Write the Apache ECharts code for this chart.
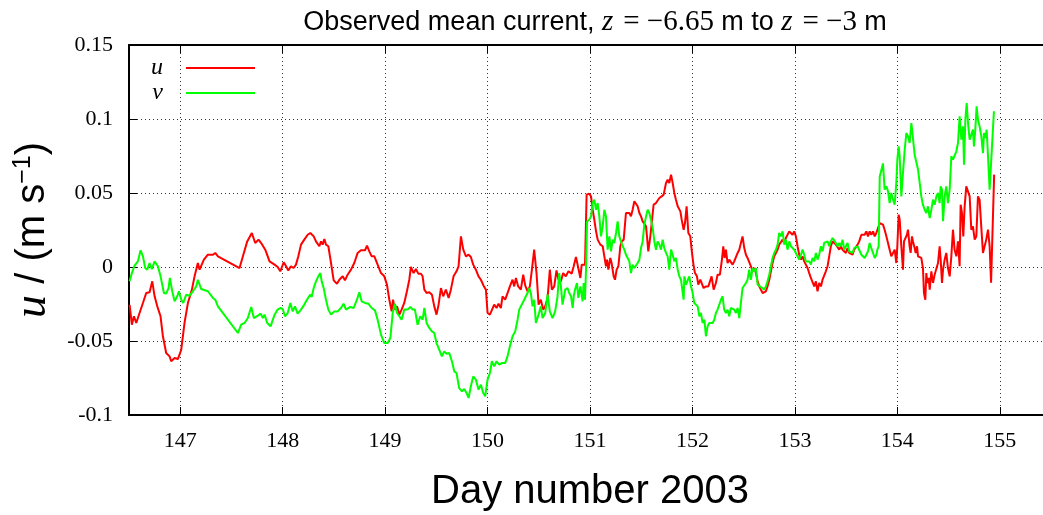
<!DOCTYPE html>
<html><head><meta charset="utf-8">
<script src="https://cdn.jsdelivr.net/npm/echarts@6/dist/echarts.min.js"></script>
<style>html,body{margin:0;padding:0;background:#fff}#c{width:1043px;height:515px}</style>
</head><body><div id="c"></div>
<script>
const uDays = [146.506,146.528,146.548,146.571,146.603,146.636,146.668,146.701,146.727,146.750,146.776,146.808,146.831,146.863,146.896,146.912,146.945,146.977,147.010,147.042,147.075,147.114,147.140,147.172,147.189,147.231,147.270,147.319,147.342,147.368,147.579,147.612,147.654,147.699,147.732,147.764,147.790,147.830,147.872,147.921,
147.951,147.977,148.010,148.033,148.055,148.081,148.107,148.130,148.153,148.179,148.211,148.244,148.270,148.303,148.325,148.342,148.358,148.374,148.390,148.407,148.423,148.446,148.472,148.498,148.530,148.553,148.586,148.608,148.634,148.667,148.699,148.732,148.764,148.804,148.823,148.846,148.869,148.895,148.927,148.960,148.992,149.018,149.041,149.064,149.077,149.096,149.116,149.139,149.161,149.187,149.213,149.236,149.252,149.278,149.301,149.324,149.350,149.366,149.383,
149.405,149.431,149.457,149.480,149.502,149.522,149.545,149.567,149.593,149.620,149.642,149.668,149.697,149.717,149.740,149.763,149.789,149.815,149.837,149.860,149.886,149.912,149.935,149.961,149.984,150.000,150.023,150.042,150.065,150.088,150.107,150.130,150.146,150.172,150.195,150.218,150.244,150.260,150.277,150.299,150.325,150.348,150.368,150.390,150.413,150.433,150.455,150.478,150.498,150.520,150.543,150.563,150.586,150.608,150.628,150.651,150.673,150.693,150.716,150.738,150.764,150.790,
150.821,150.841,150.863,150.880,150.896,150.906,150.919,150.938,150.951,150.967,150.993,151.010,151.026,151.042,151.059,151.075,151.101,151.124,151.140,151.156,151.166,151.179,151.198,151.211,151.231,151.244,151.260,151.277,151.296,151.309,151.329,151.351,151.368,151.384,151.400,151.416,151.433,151.449,151.465,151.482,151.498,151.514,151.530,151.547,151.556,151.569,151.589,151.602,151.621,151.644,151.660,151.677,151.699,151.719,151.742,151.758,151.774,151.791,151.807,151.823,151.839,151.856,151.882,151.895,151.914,151.927,151.943,151.960,151.979,151.992,152.012,152.025,152.044,152.057,152.077,152.090,152.109,152.132,152.155,152.174,152.187,152.207,
152.229,152.245,152.268,152.288,152.301,152.314,152.327,152.343,152.359,152.375,152.392,152.408,152.424,152.441,152.457,152.473,152.489,152.506,152.522,152.538,152.554,152.571,152.587,152.603,152.620,152.636,152.652,152.668,152.685,152.701,152.717,152.733,152.750,152.766,152.782,152.798,152.815,152.831,152.847,152.863,152.880,152.896,152.912,152.928,152.945,152.961,152.977,152.993,153.010,153.026,153.042,153.059,153.075,153.091,153.107,153.124,153.140,153.156,153.172,153.189,153.205,153.221,153.237,153.254,153.270,153.286,153.302,153.319,153.335,153.351,153.368,153.384,153.400,153.416,153.433,153.449,153.465,153.482,153.498,153.514,153.530,153.547,153.563,153.579,153.595,153.612,153.628,
153.649,153.665,153.681,153.697,153.714,153.730,153.746,153.763,153.779,153.795,153.811,153.828,153.844,153.860,153.876,153.893,153.909,153.925,153.941,153.958,153.974,153.990,154.000,154.013,154.023,154.039,154.055,154.065,154.078,154.094,154.104,154.120,154.130,154.143,154.153,154.169,154.179,154.192,154.202,154.218,154.234,154.250,154.260,154.273,154.283,154.293,154.306,154.316,154.332,154.348,154.364,154.381,154.397,154.413,154.423,154.436,154.446,154.462,154.478,154.494,154.511,154.527,154.543,154.559,154.576,154.592,154.608,154.618,154.631,154.644,154.657,154.673,154.690,154.706,154.722,154.738,154.755,154.771,154.787,154.803,154.820,154.836,154.852,154.868,154.885,154.901,154.915,154.945];
const uValues = [-0.0255,-0.0390,-0.0333,-0.0378,-0.0311,-0.0243,-0.0176,-0.0171,-0.0097,-0.0198,-0.0266,-0.0333,-0.0468,-0.0581,-0.0604,-0.0637,-0.0615,-0.0622,-0.0559,-0.0378,-0.0243,-0.0153,-0.0063,0.0027,-0.0018,0.0050,0.0083,0.0083,0.0095,0.0072,-0.0007,0.0072,0.0173,0.0230,0.0162,0.0185,0.0162,0.0117,0.0038,0.0016,
0.0000,-0.0029,0.0032,0.0005,-0.0023,0.0005,-0.0007,0.0016,0.0072,0.0151,0.0185,0.0218,0.0230,0.0207,0.0173,0.0185,0.0140,0.0173,0.0151,0.0189,0.0151,0.0140,0.0027,-0.0090,-0.0113,-0.0086,-0.0063,-0.0090,-0.0052,-0.0018,0.0027,0.0095,0.0113,0.0113,0.0144,0.0106,0.0072,0.0072,0.0016,-0.0041,-0.0063,-0.0119,-0.0221,-0.0300,-0.0221,-0.0288,-0.0266,-0.0322,-0.0288,-0.0243,-0.0164,-0.0086,0.0000,-0.0041,-0.0014,-0.0045,-0.0045,-0.0063,-0.0153,
-0.0176,-0.0171,-0.0187,-0.0266,-0.0322,-0.0254,-0.0142,-0.0198,-0.0153,-0.0209,-0.0153,-0.0063,-0.0029,0.0005,0.0207,0.0117,0.0072,0.0083,0.0068,0.0016,-0.0018,-0.0063,-0.0086,-0.0126,-0.0153,-0.0311,-0.0322,-0.0311,-0.0254,-0.0277,-0.0248,-0.0277,-0.0198,-0.0221,-0.0176,-0.0131,-0.0086,-0.0131,-0.0074,-0.0131,-0.0153,-0.0052,-0.0126,-0.0164,-0.0131,-0.0018,0.0117,-0.0041,-0.0254,-0.0221,-0.0288,-0.0266,-0.0209,-0.0018,-0.0153,-0.0131,-0.0023,-0.0086,-0.0097,-0.0041,-0.0063,-0.0029,
-0.0045,0.0005,0.0068,0.0061,-0.0041,-0.0074,0.0016,0.0005,0.0016,0.0489,0.0495,0.0477,0.0387,0.0320,0.0241,0.0185,0.0151,0.0140,0.0072,0.0005,0.0050,-0.0018,0.0061,0.0027,-0.0063,-0.0086,-0.0018,0.0005,0.0140,0.0173,0.0185,0.0365,0.0376,0.0365,0.0342,0.0387,0.0444,0.0455,0.0410,0.0365,0.0342,0.0308,0.0320,0.0275,0.0207,0.0106,0.0207,0.0297,0.0421,0.0432,0.0432,0.0466,0.0477,0.0489,0.0568,0.0590,0.0568,0.0624,0.0568,0.0500,0.0455,0.0410,0.0376,0.0320,0.0252,0.0297,0.0410,0.0230,0.0207,0.0117,0.0005,-0.0041,-0.0063,-0.0119,-0.0086,-0.0074,-0.0142,-0.0131,-0.0131,-0.0142,-0.0063,-0.0153,
-0.0108,-0.0052,-0.0052,0.0050,0.0140,0.0061,0.0117,0.0027,0.0050,0.0061,0.0016,0.0038,0.0027,0.0095,0.0117,0.0162,0.0207,0.0128,0.0083,0.0061,0.0050,0.0005,-0.0029,-0.0007,-0.0041,-0.0097,-0.0131,-0.0153,-0.0176,-0.0187,-0.0164,-0.0131,-0.0086,-0.0029,0.0027,0.0072,0.0095,0.0117,0.0151,0.0140,0.0185,0.0162,0.0196,0.0207,0.0241,0.0230,0.0218,0.0241,0.0207,0.0140,0.0083,0.0050,0.0072,0.0038,0.0027,-0.0007,-0.0041,-0.0074,-0.0086,-0.0131,-0.0097,-0.0164,-0.0108,-0.0131,-0.0086,-0.0074,-0.0029,0.0005,0.0072,0.0140,0.0173,0.0185,0.0151,0.0162,0.0117,0.0140,0.0117,0.0128,0.0095,0.0128,0.0095,0.0095,0.0083,0.0117,0.0106,0.0151,0.0173,
0.0218,0.0207,0.0218,0.0241,0.0207,0.0241,0.0218,0.0241,0.0207,0.0230,0.0230,0.0297,0.0302,0.0286,0.0252,0.0207,0.0162,0.0117,0.0072,0.0061,0.0117,0.0027,0.0140,0.0354,0.0320,0.0140,-0.0018,0.0173,0.0173,0.0218,0.0252,0.0140,0.0095,0.0207,0.0173,0.0128,0.0095,0.0140,0.0072,0.0083,0.0061,-0.0007,-0.0176,-0.0221,-0.0041,-0.0108,-0.0074,-0.0153,-0.0029,-0.0108,-0.0052,-0.0063,0.0027,0.0140,0.0050,-0.0108,-0.0018,0.0050,0.0095,-0.0007,-0.0063,0.0072,0.0252,0.0117,0.0072,0.0173,0.0005,0.0421,0.0365,0.0207,0.0410,0.0545,0.0545,0.0477,0.0252,0.0275,0.0185,0.0207,0.0477,0.0455,0.0264,0.0095,0.0095,0.0185,0.0252,0.0140,-0.0106,0.0624];

const vDays = [146.506,146.528,146.554,146.587,146.613,146.636,146.658,146.678,146.701,146.723,146.750,146.782,146.808,146.841,146.863,146.886,146.899,146.922,146.945,146.971,146.987,147.010,147.029,147.059,147.091,147.124,147.156,147.172,147.205,147.270,147.319,147.342,147.368,147.563,147.595,147.628,147.660,147.693,147.719,147.758,147.784,147.807,147.823,147.849,147.882,147.921,
147.951,147.977,148.000,148.023,148.049,148.075,148.098,148.120,148.146,148.179,148.211,148.237,148.270,148.283,148.303,148.325,148.348,148.368,148.381,148.400,148.423,148.446,148.472,148.504,148.537,148.569,148.595,148.618,148.634,148.660,148.693,148.725,148.748,148.771,148.804,148.836,148.869,148.901,148.927,148.960,148.992,149.025,149.051,149.074,149.096,149.116,149.139,149.161,149.187,149.220,149.246,149.269,149.291,149.317,149.343,149.366,149.383,
149.405,149.431,149.457,149.480,149.502,149.528,149.554,149.577,149.600,149.626,149.652,149.675,149.697,149.723,149.750,149.772,149.795,149.815,149.837,149.860,149.886,149.912,149.935,149.958,149.977,150.000,150.023,150.042,150.065,150.088,150.114,150.140,150.172,150.195,150.218,150.244,150.270,150.293,150.309,150.325,150.342,150.358,150.374,150.390,150.407,150.423,150.439,150.455,150.472,150.498,150.520,150.537,150.563,150.586,150.608,150.634,150.660,150.683,150.699,150.716,150.732,150.758,150.781,150.797,
150.815,150.831,150.841,150.854,150.873,150.886,150.906,150.928,150.938,150.951,150.961,150.971,150.993,151.010,151.026,151.042,151.059,151.075,151.091,151.107,151.124,151.140,151.156,151.172,151.189,151.205,151.221,151.237,151.254,151.270,151.286,151.302,151.319,151.335,151.351,151.368,151.384,151.400,151.416,151.433,151.449,151.465,151.482,151.498,151.514,151.530,151.547,151.563,151.579,151.595,151.612,151.628,151.644,151.660,151.677,151.693,151.709,151.725,151.742,151.758,151.774,151.791,151.807,151.823,151.839,151.856,151.872,151.888,151.904,151.914,151.921,151.937,151.953,151.969,151.986,152.002,152.018,152.034,152.051,152.067,152.083,152.099,152.116,152.132,152.148,152.164,152.181,152.197,152.213,
152.229,152.245,152.262,152.278,152.294,152.310,152.327,152.343,152.359,152.375,152.392,152.408,152.424,152.441,152.457,152.473,152.489,152.506,152.522,152.538,152.554,152.571,152.587,152.603,152.620,152.636,152.652,152.668,152.685,152.701,152.717,152.733,152.750,152.766,152.782,152.798,152.815,152.831,152.847,152.863,152.880,152.896,152.912,152.928,152.945,152.961,152.977,152.993,153.010,153.026,153.042,153.059,153.075,153.091,153.107,153.124,153.140,153.156,153.172,153.189,153.205,153.221,153.237,153.254,153.270,153.286,153.302,153.319,153.335,153.351,153.368,153.384,153.400,153.416,153.433,153.449,153.465,153.482,153.498,153.514,153.530,153.547,153.563,153.579,153.595,153.612,153.628,
153.649,153.665,153.681,153.697,153.714,153.730,153.746,153.763,153.779,153.795,153.805,153.818,153.828,153.844,153.860,153.876,153.893,153.909,153.925,153.941,153.958,153.974,153.990,154.000,154.013,154.023,154.039,154.055,154.072,154.088,154.104,154.120,154.137,154.153,154.169,154.185,154.202,154.218,154.234,154.250,154.267,154.283,154.299,154.316,154.332,154.348,154.364,154.381,154.397,154.413,154.423,154.436,154.446,154.462,154.478,154.494,154.511,154.527,154.543,154.559,154.576,154.592,154.608,154.625,154.641,154.651,154.664,154.677,154.690,154.706,154.722,154.738,154.748,154.761,154.774,154.787,154.803,154.820,154.836,154.846,154.859,154.872,154.885,154.901,154.917,154.933,154.943];
const vValues = [-0.0097,-0.0041,0.0009,0.0038,0.0113,0.0072,-0.0007,-0.0018,0.0027,-0.0014,0.0038,0.0005,-0.0063,-0.0176,-0.0180,-0.0142,-0.0074,-0.0164,-0.0232,-0.0198,-0.0164,-0.0221,-0.0243,-0.0187,-0.0194,-0.0164,-0.0131,-0.0086,-0.0149,-0.0164,-0.0209,-0.0221,-0.0266,-0.0446,-0.0390,-0.0378,-0.0345,-0.0270,-0.0345,-0.0329,-0.0315,-0.0345,-0.0322,-0.0378,-0.0401,-0.0322,
-0.0288,-0.0277,-0.0284,-0.0333,-0.0311,-0.0243,-0.0300,-0.0266,-0.0315,-0.0288,-0.0254,-0.0221,-0.0187,-0.0203,-0.0142,-0.0097,-0.0063,-0.0041,-0.0097,-0.0142,-0.0221,-0.0288,-0.0322,-0.0300,-0.0300,-0.0277,-0.0248,-0.0288,-0.0300,-0.0270,-0.0277,-0.0221,-0.0171,-0.0232,-0.0243,-0.0248,-0.0277,-0.0293,-0.0356,-0.0457,-0.0514,-0.0514,-0.0480,-0.0311,-0.0248,-0.0311,-0.0333,-0.0356,-0.0288,-0.0288,-0.0270,-0.0288,-0.0288,-0.0390,-0.0333,-0.0356,-0.0277,
-0.0378,-0.0412,-0.0435,-0.0446,-0.0514,-0.0559,-0.0604,-0.0570,-0.0586,-0.0581,-0.0637,-0.0705,-0.0716,-0.0818,-0.0840,-0.0824,-0.0851,-0.0885,-0.0806,-0.0739,-0.0761,-0.0829,-0.0795,-0.0851,-0.0874,-0.0761,-0.0716,-0.0637,-0.0671,-0.0637,-0.0660,-0.0649,-0.0649,-0.0604,-0.0536,-0.0468,-0.0435,-0.0356,-0.0288,-0.0266,-0.0277,-0.0221,-0.0198,-0.0176,-0.0142,-0.0176,-0.0266,-0.0221,-0.0378,-0.0322,-0.0266,-0.0345,-0.0311,-0.0187,-0.0300,-0.0345,-0.0300,-0.0198,-0.0041,-0.0131,-0.0254,-0.0153,-0.0142,-0.0176,
-0.0198,-0.0277,-0.0198,-0.0153,-0.0108,-0.0209,-0.0131,-0.0232,-0.0108,-0.0221,-0.0018,0.0308,0.0320,0.0342,0.0432,0.0455,0.0387,0.0432,0.0342,0.0207,0.0275,0.0387,0.0342,0.0117,0.0207,0.0106,0.0185,0.0162,0.0230,0.0308,0.0207,0.0173,0.0140,0.0117,0.0083,0.0095,0.0038,-0.0041,0.0016,-0.0007,-0.0018,0.0027,0.0050,0.0128,0.0173,0.0286,0.0342,0.0387,0.0365,0.0320,0.0264,0.0173,0.0117,0.0173,0.0151,0.0117,0.0185,0.0128,0.0095,0.0072,-0.0018,0.0117,0.0083,0.0038,0.0061,-0.0018,-0.0063,-0.0086,-0.0086,-0.0221,-0.0063,-0.0119,-0.0119,-0.0063,-0.0131,-0.0176,-0.0243,-0.0232,-0.0266,-0.0333,-0.0311,-0.0378,-0.0356,-0.0468,-0.0401,-0.0378,-0.0367,-0.0378,-0.0356,
-0.0311,-0.0288,-0.0288,-0.0221,-0.0198,-0.0288,-0.0311,-0.0288,-0.0333,-0.0277,-0.0266,-0.0288,-0.0311,-0.0277,-0.0345,-0.0243,-0.0142,-0.0153,-0.0108,-0.0086,-0.0018,-0.0086,-0.0007,-0.0029,-0.0007,-0.0119,-0.0119,-0.0135,-0.0142,-0.0153,-0.0131,-0.0097,-0.0052,0.0005,0.0061,0.0095,0.0117,0.0151,0.0230,0.0207,0.0241,0.0151,0.0185,0.0117,0.0173,0.0140,0.0128,0.0117,0.0095,0.0083,0.0050,0.0083,0.0117,0.0083,0.0038,0.0027,0.0038,0.0016,0.0061,0.0038,0.0095,0.0050,0.0083,0.0140,0.0106,0.0162,0.0162,0.0173,0.0140,0.0173,0.0196,0.0185,0.0162,0.0140,0.0162,0.0140,0.0185,0.0117,0.0140,0.0162,0.0106,0.0117,0.0095,0.0128,0.0117,0.0140,0.0128,
0.0083,0.0072,0.0061,0.0072,0.0106,0.0162,0.0128,0.0095,0.0061,0.0083,0.0117,0.0140,0.0610,0.0622,0.0700,0.0523,0.0545,0.0511,0.0432,0.0500,0.0455,0.0421,0.0568,0.0725,0.0815,0.0748,0.0477,0.0635,0.0793,0.0905,0.0883,0.0838,0.0973,0.0984,0.0759,0.0748,0.0658,0.0568,0.0477,0.0421,0.0387,0.0365,0.0410,0.0331,0.0387,0.0455,0.0421,0.0477,0.0500,0.0432,0.0545,0.0523,0.0309,0.0477,0.0545,0.0432,0.0523,0.0748,0.0725,0.0714,0.0782,0.0838,0.1018,0.0860,0.0950,0.0691,0.0995,0.1108,0.0973,0.0860,0.0849,0.0928,0.0815,0.0928,0.1086,0.0995,0.0950,0.0883,0.0770,0.0905,0.0872,0.0928,0.0748,0.0523,0.0511,0.0928,0.1052];

const xMin = 146.5, xMax = 155.5;
const yMin = -0.1, yMax = 0.15, yStep = 0.05;

const chart = echarts.init(document.getElementById('c'), null, {renderer: 'canvas'});
const serif = 'Liberation Serif';
const sans = 'Liberation Sans';
const gridLine = {show: true, lineStyle: {color: '#000', width: 1, type: [1, 3], opacity: 0.8}};
const tickIn = {show: true, inside: true, length: 8, lineStyle: {color: '#000', width: 1}};
const axisLn = {show: true, onZero: false, lineStyle: {color: '#000', width: 2}};

chart.setOption({
  animation: false,
  backgroundColor: '#fff',
  title: {
    text: '{s|Observed mean current, }{mi|z}{m|= \u22126.65 }{s|m to }{mi|z}{m|= \u22123 }{s|m}',
    left: 590, top: 3, textAlign: 'center',
    textStyle: {
      fontWeight: 'normal',
      rich: {
        s: {fontFamily: sans, fontSize: 27, fontWeight: 'normal', color: '#000'},
        mi: {fontFamily: serif, fontStyle: 'italic', fontSize: 29, fontWeight: 'normal', color: '#000', padding: [0, 10, 0, 0]},
        m: {fontFamily: serif, fontSize: 29, fontWeight: 'normal', color: '#000'}
      }
    }
  },
  legend: {
    orient: 'vertical', left: 146, top: 51, align: 'right',
    icon: 'rect', itemWidth: 69, itemHeight: 2, itemGap: 1,
    data: ['u', 'v'],
    textStyle: {fontFamily: serif, fontStyle: 'italic', fontSize: 24, color: '#000', padding: [0, 18, 0, 0]}
  },
  grid: {left: 129, top: 45, width: 922, height: 370, containLabel: false, outerBoundsMode: 'none'},
  xAxis: [{
    type: 'value', min: xMin, max: xMax, splitNumber: 9, position: 'bottom',
    axisLine: axisLn, axisTick: tickIn, splitLine: gridLine,
    axisLabel: {margin: 15, fontFamily: serif, fontSize: 22, color: '#000',
      formatter: v => (Math.abs(v - Math.round(v)) < 1e-6 ? String(Math.round(v)) : '')},
    name: 'Day number 2003', nameLocation: 'middle', nameGap: 57,
    nameTextStyle: {fontFamily: sans, fontSize: 40, color: '#000'}
  }, {
    type: 'value', min: xMin, max: xMax, splitNumber: 9, position: 'top',
    axisLine: axisLn, axisTick: tickIn, splitLine: {show: false}, axisLabel: {show: false}
  }],
  yAxis: [{
    type: 'value', min: yMin, max: yMax, interval: yStep, position: 'left',
    axisLine: axisLn, axisTick: tickIn, splitLine: gridLine,
    axisLabel: {margin: 16, fontFamily: serif, fontSize: 22, color: '#000'},
    name: '{mi|u}{s| / (m s}{sup|\u22121}{s|)}', nameLocation: 'middle', nameGap: 61, nameRotate: 90,
    nameTextStyle: {
      rich: {
        mi: {fontFamily: serif, fontStyle: 'italic', fontSize: 46, color: '#000'},
        s: {fontFamily: sans, fontSize: 40, color: '#000'},
        sup: {fontFamily: sans, fontSize: 25, color: '#000', verticalAlign: 'top'}
      }
    }
  }, {
    type: 'value', min: yMin, max: yMax, interval: yStep, position: 'right',
    axisLine: axisLn, axisTick: tickIn, splitLine: {show: false}, axisLabel: {show: false}
  }],
  series: [{
    name: 'u', type: 'line', xAxisIndex: 0, yAxisIndex: 0,
    data: uDays.map((d, i) => [d, uValues[i]]),
    symbol: 'none', lineStyle: {width: 2, color: '#ff0000'}, itemStyle: {color: '#ff0000'}
  }, {
    name: 'v', type: 'line', xAxisIndex: 0, yAxisIndex: 0,
    data: vDays.map((d, i) => [d, vValues[i]]),
    symbol: 'none', lineStyle: {width: 2, color: '#00ff00'}, itemStyle: {color: '#00ff00'}
  }]
});
</script>
</body></html>
